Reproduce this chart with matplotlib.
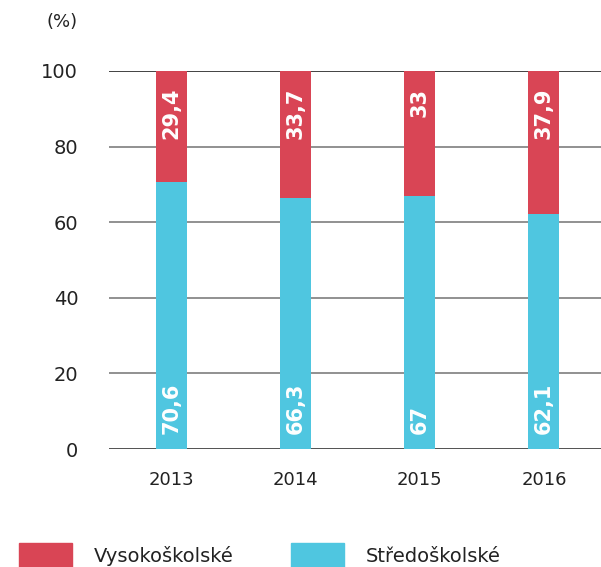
import matplotlib.pyplot as plt
import numpy as np

# данные
roky = ['2013', '2014', '2015', '2016']
vysoko = [29.4, 33.7, 33, 37.9]
stredo = [70.6, 66.3, 67, 62.1]
yticks = [0, 20, 40, 60, 80, 100]

red = '#d94555'
cyan = '#4fc6e0'
txt = '#222222'

plt.rcParams['font.family'] = ['DejaVu Sans']

fig = plt.figure(figsize=(6.01, 5.67), dpi=100)
ax = fig.add_axes([0.181, 0.208, 0.819, 0.667])

x = np.arange(len(roky))
w = 0.25

# сетка
for t in yticks:
    if t == 100:
        c = '#333333'
    elif t == 0:
        c = '#444444'
    else:
        c = '#888888'
    ax.axhline(t, color=c, lw=1.3, zorder=1)

ax.bar(x, stredo, w, color=cyan, zorder=2, label='Středoškolské')
ax.bar(x, vysoko, w, bottom=stredo, color=red, zorder=2, label='Vysokoškolské')

def fmt(v):
    s = ('%g' % v).replace('.', ',')
    return s

# подписи на столбиках
for i in range(len(roky)):
    ax.annotate(fmt(vysoko[i]), (x[i], 100), xytext=(0, -12), textcoords='offset points',
                rotation=90, ha='center', va='top', color='white',
                fontsize=15, fontweight='bold', zorder=3)
    ax.annotate(fmt(stredo[i]), (x[i], 0), xytext=(0, 11), textcoords='offset points',
                rotation=90, ha='center', va='bottom', color='white',
                fontsize=15, fontweight='bold', zorder=3)

ax.set_xlim(-0.504, 3.46)
ax.set_ylim(0, 100)
ax.set_xticks(x)
ax.set_xticklabels(roky, fontsize=13, color=txt)
ax.set_yticks(yticks)
ax.set_yticklabels([str(t) for t in yticks], fontsize=14, color=txt)
ax.tick_params(length=0)
ax.tick_params(axis='x', pad=16)
ax.tick_params(axis='y', pad=22)
for s in ax.spines.values():
    s.set_visible(False)

fig.text(78 / 601, 1 - 22 / 567, '(%)', ha='right', va='center', fontsize=13, color=txt)

# легенда вручную
fig.patches.append(plt.Rectangle((19 / 601, 0), 53 / 601, 24 / 567, transform=fig.transFigure,
                                 color=red, figure=fig))
fig.text(94 / 601, 1 - 556 / 567, 'Vysokoškolské', ha='left', va='center', fontsize=14, color=txt)
fig.patches.append(plt.Rectangle((291 / 601, 0), 53 / 601, 24 / 567, transform=fig.transFigure,
                                 color=cyan, figure=fig))
fig.text(366 / 601, 1 - 556 / 567, 'Středoškolské', ha='left', va='center', fontsize=14, color=txt)

fig.savefig('out.png', dpi=100)
